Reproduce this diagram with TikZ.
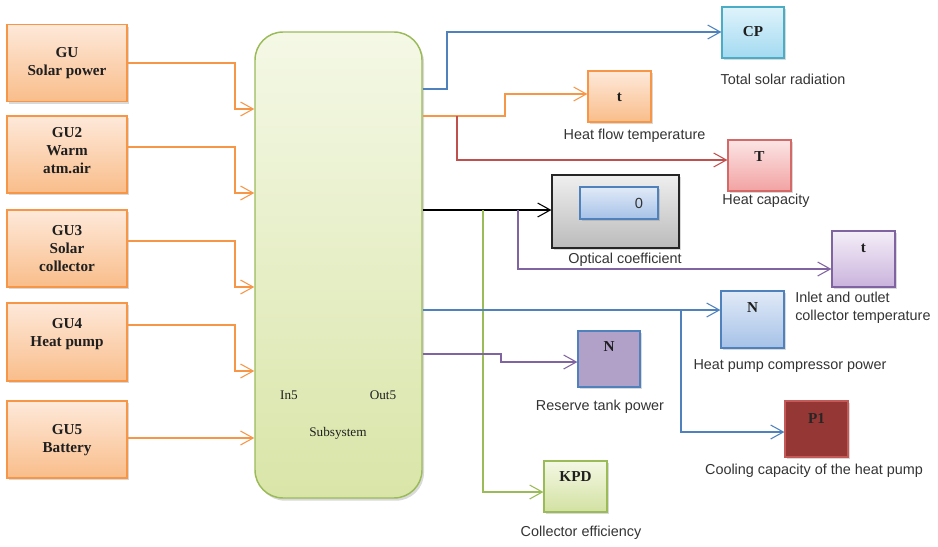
\documentclass[tikz,border=0pt]{standalone}
\usepackage{fontspec}
\setmainfont{Liberation Serif}
\newfontfamily\labsans{Liberation Sans}
\usetikzlibrary{arrows.meta,shadows}
\definecolor{orl}{HTML}{F79646}
\definecolor{bll}{HTML}{4F81BD}
\definecolor{rdl}{HTML}{C0504D}
\definecolor{prl}{HTML}{8064A2}
\definecolor{grl}{HTML}{9BBB59}
\definecolor{gutop}{HTML}{FEE9DA}
\definecolor{gubot}{HTML}{F9BD8A}
\definecolor{subtop}{HTML}{F4F8E6}
\definecolor{subbot}{HTML}{D9E5A8}
\definecolor{cptop}{HTML}{DFF3FB}
\definecolor{cpbot}{HTML}{A3DAF1}
\definecolor{cpbd}{HTML}{4BACC6}
\definecolor{tctop}{HTML}{FCE5E5}
\definecolor{tcbot}{HTML}{F2A2A2}
\definecolor{tcbd}{HTML}{D46A67}
\definecolor{gytop}{HTML}{EFEFEF}
\definecolor{gybot}{HTML}{BBBBBB}
\definecolor{bxtop}{HTML}{E1EAF7}
\definecolor{bxbot}{HTML}{A6C2E8}
\definecolor{pxtop}{HTML}{F4EEF8}
\definecolor{pxbot}{HTML}{CAB3DC}
\definecolor{nrfill}{HTML}{B1A0C7}
\definecolor{p1fill}{HTML}{953735}
\definecolor{p1bd}{HTML}{C45A58}
\definecolor{kxtop}{HTML}{F3F8E4}
\definecolor{kxbot}{HTML}{D3E1A2}
\begin{document}
\begin{tikzpicture}[x=0.75pt,y=-0.75pt,
  wh/.style 2 args={minimum width=#1*0.75pt,minimum height=#2*0.75pt},
  blk/.style={draw,line width=0.9pt,inner sep=0pt,
    drop shadow={opacity=0.3,shadow xshift=1.5pt,shadow yshift=-1.8pt}},
  gubox/.style={blk,draw=orl,top color=gutop,bottom color=gubot,wh={120}{77}},
  btxt/.style={font=\fontsize{11.4}{13.5}\selectfont\bfseries,align=center,text=black!88,inner sep=0pt},
  lab/.style={font=\labsans\fontsize{10.8}{13.5}\selectfont,text=black!80,inner sep=0pt},
  stxt/.style={font=\fontsize{9.9}{12}\selectfont,text=black!88,inner sep=0pt},
  con/.style={line width=0.8pt,-{Straight Barb[length=9.5pt,width=10.5pt,line width=0.8pt]}},
  oline/.style={con,draw=orl},
  bline/.style={con,draw=bll},
  rline/.style={con,draw=rdl},
  pline/.style={con,draw=prl},
  gline/.style={con,draw=grl},
  kline/.style={con,draw=black}]
\useasboundingbox (0,0) rectangle (938,546);

% ---- left boxes
\node[gubox] (gu1) at (67,63) {};
\node[btxt] (gu1t) at (67,63) {GU\\Solar power};
\node[gubox] (gu2) at (67,154.5) {};
\node[btxt] (gu2t) at (67,151) {GU2\\Warm\\atm.air};
\node[gubox] (gu3) at (67,248.5) {};
\node[btxt] (gu3t) at (67,249) {GU3\\Solar\\collector};
\node[gubox,wh={120}{78}] (gu4) at (67,342) {};
\node[btxt] (gu4t) at (67,334) {GU4\\Heat pump};
\node[gubox] (gu5) at (67,439.5) {};
\node[btxt] (gu5t) at (67,440) {GU5\\Battery};

% ---- subsystem
\node[draw=grl,line width=1.1pt,rounded corners=21pt,top color=subtop,bottom color=subbot,
  wh={167}{466},drop shadow={opacity=0.3,shadow xshift=1.5pt,shadow yshift=-2pt}] (sub) at (338.5,265) {};
\node[stxt] (in5) at (289,395) {In5};
\node[stxt] (out5) at (383,395) {Out5};
\node[stxt] (subl) at (338,433) {Subsystem};

% ---- right boxes
\node[blk,draw=cpbd,top color=cptop,bottom color=cpbot,wh={62}{51}] (cp) at (753,32.5) {};
\node[btxt] (cpt) at (753,32) {CP};
\node[lab] (cpl) at (783,79) {Total solar radiation};

\node[blk,draw=orl,top color=gutop,bottom color=gubot,wh={63}{51}] (tq) at (619.5,96.5) {};
\node[btxt] (tqt) at (619.5,97) {t};
\node[lab] (tql) at (634.5,136) {Heat flow temperature};

\node[blk,draw=tcbd,top color=tctop,bottom color=tcbot,wh={63}{51}] (tc) at (759.5,165.5) {};
\node[btxt] (tct) at (759.5,157) {T};
\node[lab] (tcl) at (766,201) {Heat capacity};

\node[blk,draw=black!85,top color=gytop,bottom color=gybot,wh={127}{73}] (opt) at (615.5,211.5) {};
\node[blk,draw=bll,top color=bxtop,bottom color=bxbot,wh={78}{32}] (opti) at (619,203) {};
\node[lab,font=\labsans\fontsize{11}{13}\selectfont] (zero) at (639,203) {0};
\node[lab] (optl) at (625,260) {Optical coefficient};

\node[blk,draw=prl,top color=pxtop,bottom color=pxbot,wh={63}{56}] (tin) at (863.5,259) {};
\node[btxt] (tint) at (863.5,248) {t};
\node[lab,anchor=west,align=left] (tinl) at (795,307.5) {Inlet and outlet\\collector temperature};

\node[blk,draw=bll,top color=bxtop,bottom color=bxbot,wh={63}{57}] (np) at (752.5,319.5) {};
\node[btxt] (npt) at (752.5,308) {N};
\node[lab] (npl) at (790,366) {Heat pump compressor power};

\node[blk,draw=bll,fill=nrfill,wh={62}{56}] (nr) at (609,359) {};
\node[btxt] (nrt) at (609,347) {N};
\node[lab] (nrl) at (600,407) {Reserve tank power};

\node[blk,draw=p1bd,fill=p1fill,wh={63}{56}] (p1) at (816.5,429) {};
\node[btxt,text=black!85] (p1t) at (816.5,418) {P1};
\node[lab] (p1l) at (814,471) {Cooling capacity of the heat pump};

\node[blk,draw=grl,top color=kxtop,bottom color=kxbot,wh={63}{51}] (kpd) at (575.5,486.5) {};
\node[btxt] (kpdt) at (575.5,477) {KPD};
\node[lab] (kpdl) at (581,533) {Collector efficiency};

% ---- helper coordinates (levels)
\coordinate (l1) at (0,63);  \coordinate (m1) at (0,109);
\coordinate (l2) at (0,147); \coordinate (m2) at (0,193);
\coordinate (l3) at (0,241); \coordinate (m3) at (0,287);
\coordinate (l4) at (0,325); \coordinate (m4) at (0,371);
\coordinate (l5) at (0,438);
\coordinate (o1) at (0,89);  \coordinate (o1e) at (0,32);
\coordinate (o2) at (0,116); \coordinate (o2e) at (0,94);
\coordinate (rj) at (457,116); \coordinate (r2) at (0,160);
\coordinate (k1) at (0,210);
\coordinate (pj) at (518,210); \coordinate (p2) at (0,269);
\coordinate (gj) at (483,210); \coordinate (g2) at (0,492);
\coordinate (b1) at (0,310);
\coordinate (bj) at (681,310); \coordinate (b2) at (0,432);
\coordinate (q1) at (0,354); \coordinate (q2) at (0,362);

% ---- left connectors
\draw[oline] (gu1.east |- l1) -| (235,109) -- (sub.west |- m1);
\draw[oline] (gu2.east |- l2) -| (235,193) -- (sub.west |- m2);
\draw[oline] (gu3.east |- l3) -| (235,287) -- (sub.west |- m3);
\draw[oline] (gu4.east |- l4) -| (235,371) -- (sub.west |- m4);
\draw[oline] (gu5.east |- l5) -- (sub.west |- l5);

% ---- right connectors
\draw[bline] (sub.east |- o1) -| (447,32) -- (cp.west |- o1e);
\draw[oline] (sub.east |- o2) -| (505,94) -- (tq.west |- o2e);
\draw[rline] (rj) |- (tc.west |- r2);
\draw[kline] (sub.east |- k1) -- (opt.west |- k1);
\draw[pline] (pj) |- (tin.west |- p2);
\draw[gline] (gj) |- (kpd.west |- g2);
\draw[bline] (sub.east |- b1) -- (np.west |- b1);
\draw[bline] (bj) |- (p1.west |- b2);
\draw[pline] (sub.east |- q1) -| (501,362) -- (nr.west |- q2);
\end{tikzpicture}
\end{document}
